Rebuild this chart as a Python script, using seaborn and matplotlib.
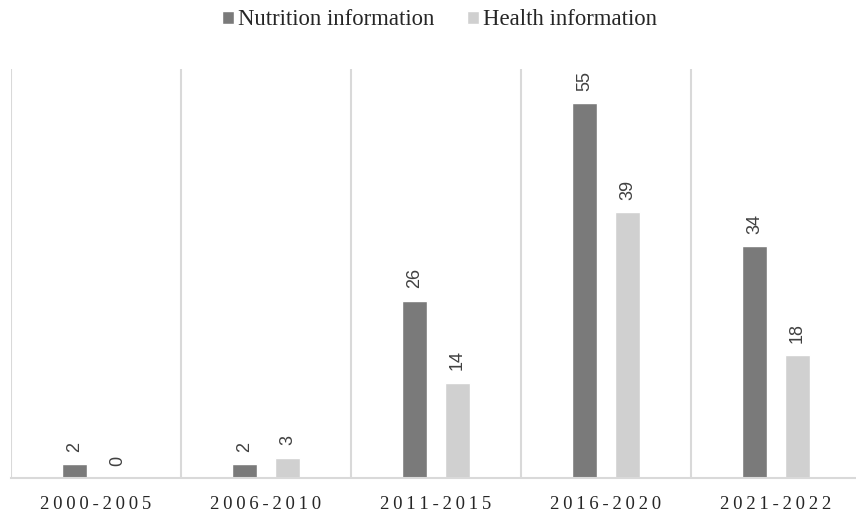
import matplotlib
matplotlib.use("Agg")
import matplotlib.pyplot as plt
import seaborn as sns
import pandas as pd

# Publication counts by period
periods = ["2000-2005", "2006-2010", "2011-2015", "2016-2020", "2021-2022"]
nutrition = [2, 2, 26, 55, 34]
health = [0, 3, 14, 39, 18]
series_names = ["Nutrition information", "Health information"]

df = pd.DataFrame({
    "period": periods * 2,
    "count": nutrition + health,
    "series": [series_names[0]] * len(periods) + [series_names[1]] * len(periods),
})

sns.set_theme(style="white")
plt.rcParams["font.family"] = ["Liberation Serif", "DejaVu Serif"]

fig = plt.figure(figsize=(8.56, 5.16), dpi=100)
ax = fig.add_axes([11 / 856, 38 / 516, 850 / 856, 409 / 516])

palette = {series_names[0]: "#7a7a7a", series_names[1]: "#d0d0d0"}
sns.barplot(data=df, x="period", y="count", hue="series", order=periods,
            hue_order=series_names, palette=palette, width=0.506, gap=0.42,
            saturation=1, ax=ax, legend=True)

ax.set_ylim(0, 60)
ax.set_xlim(-0.5, len(periods) - 0.5)

# Value labels above each bar
for container in ax.containers:
    ax.bar_label(container, rotation=90, padding=9, fontsize=13,
                 family="Liberation Sans", color="#404040")

# Category separators
for i in range(len(periods)):
    ax.axvline(i - 0.5, ymin=0, ymax=1, color="#d9d9d9", lw=1.5, zorder=0)

for side in ["top", "right", "left"]:
    ax.spines[side].set_visible(False)
ax.spines["bottom"].set_color("#d9d9d9")
ax.spines["bottom"].set_linewidth(1.5)

ax.set_yticks([])
ax.set_xlabel("")
ax.set_ylabel("")
ax.set_xticks(range(len(periods)))
ax.set_xticklabels(["\u2009".join(p) for p in periods], fontsize=13.5,
                   color="#262626")
ax.tick_params(axis="x", length=0, pad=13)

handles, labels = ax.get_legend_handles_labels()
ax.legend(handles, labels, loc="center", bbox_to_anchor=(0.504, 1.12),
          ncol=2, frameon=False, fontsize=16.4, handlelength=0.53, handleheight=0.53,
          handletextpad=0.18, columnspacing=1.45, labelcolor="#262626")

fig.savefig("out.png", dpi=100, facecolor="white")
